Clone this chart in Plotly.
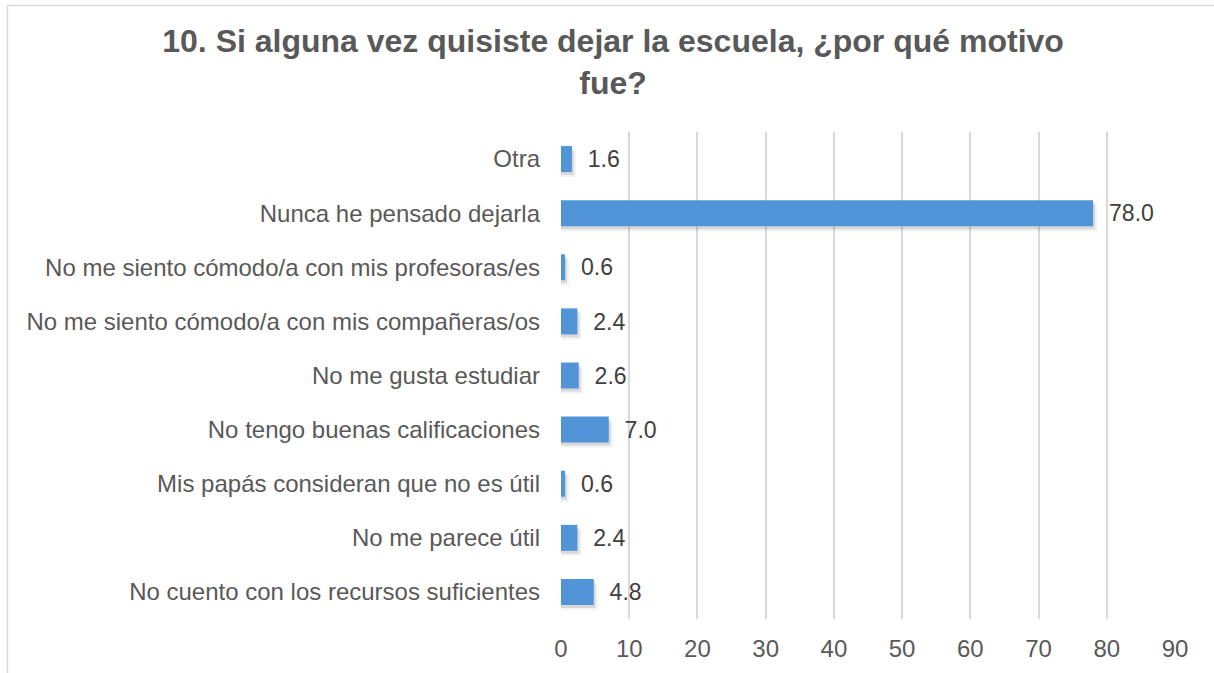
import plotly.graph_objects as go

categories = [
    "No cuento con los recursos suficientes",
    "No me parece útil",
    "Mis papás consideran que no es útil",
    "No tengo buenas calificaciones",
    "No me gusta estudiar",
    "No me siento cómodo/a con mis compañeras/os",
    "No me siento cómodo/a con mis profesoras/es",
    "Nunca he pensado dejarla",
    "Otra",
]
values = [4.8, 2.4, 0.6, 7.0, 2.6, 2.4, 0.6, 78.0, 1.6]
x_ticks = [0, 10, 20, 30, 40, 50, 60, 70, 80, 90]
title_text = "10. Si alguna vez quisiste dejar la escuela, ¿por qué motivo<br>fue?"

FONT = "Liberation Sans, Arial, Helvetica, sans-serif"

L, R, T, B = 561, 39, 132, 54
W, H = 1214, 673
pw, ph = W - L - R, H - T - B
px_x = 90 / pw                      # data units per pixel along x
px_y = len(categories) / ph         # category units per pixel along y
BW = 0.48

fig = go.Figure()
# soft drop shadow (two faint layers)
for dx, dy, alpha in [(4, 5, 0.05), (2, 3, 0.10)]:
    fig.add_trace(go.Bar(
        y=categories,
        x=[v + dx * px_x for v in values],
        orientation="h",
        width=BW,
        offset=-BW / 2 - dy * px_y,
        marker=dict(color=f"rgba(0,0,0,{alpha})", line=dict(width=0)),
        hoverinfo="skip",
    ))
fig.add_trace(go.Bar(
    y=categories,
    x=values,
    orientation="h",
    width=BW,
    offset=-BW / 2,
    marker=dict(color="#5194d7", line=dict(width=0)),
    text=values,
    texttemplate="\u00a0\u00a0%{x:.1f}",
    textposition="outside",
    cliponaxis=False,
    textfont=dict(family=FONT, size=24, color="#404040"),
    hoverinfo="skip",
))

fig.update_layout(
    width=W, height=H,
    barmode="overlay",
    margin=dict(l=L, r=R, t=T, b=B, autoexpand=False),
    paper_bgcolor="white",
    plot_bgcolor="white",
    showlegend=False,
    title=dict(
        text=title_text,
        x=0.505, xanchor="center",
        y=1 - 52 / H, yanchor="middle",
        font=dict(family=FONT, size=32, color="#595959", weight="bold"),
    ),
    xaxis=dict(
        range=[0, 90],
        tickvals=x_ticks,
        ticktext=[str(v) for v in x_ticks],
        showgrid=True, gridcolor="#d9d9d9", gridwidth=2,
        zeroline=False, showline=False,
        ticks="",
        tickfont=dict(family=FONT, size=24, color="#595959"),
        ticklabelstandoff=13,
        fixedrange=True,
    ),
    yaxis=dict(
        categoryorder="array", categoryarray=categories,
        range=[-0.5, len(categories) - 0.5],
        showgrid=False, zeroline=False, showline=False,
        ticks="",
        tickfont=dict(family=FONT, size=24, color="#595959"),
        ticklabelstandoff=20,
        fixedrange=True,
    ),
    shapes=[dict(
        type="rect", xref="paper", yref="paper",
        x0=(7.5 - L) / pw, x1=(W + 20 - L) / pw,
        y0=-(B + 20) / ph, y1=(H - B - 5.5) / ph,
        line=dict(color="#d9d9d9", width=1.5),
        fillcolor="rgba(0,0,0,0)",
        layer="below",
    )],
)

fig.write_html(
    "out.html",
    config={"displayModeBar": False},
    post_script="document.body.style.margin='0';document.body.style.overflow='hidden';",
)
